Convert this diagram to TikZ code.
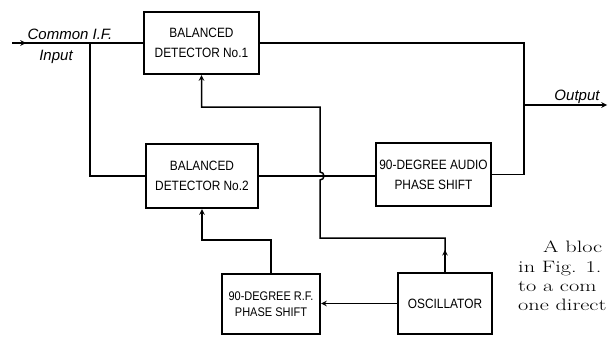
\documentclass[tikz,border=0pt]{standalone}
\usepackage{graphicx}
\usepackage{fontspec}
\newfontfamily\boxfont[FakeStretch=0.88]{Liberation Sans}
\newfontfamily\labfont{Liberation Sans}
\newcommand{\wide}[1]{\scalebox{1.35}[1]{#1}}
\tikzset{
  blk/.style={draw, line width=2.2pt, inner sep=0pt, align=center,
    font=\boxfont\fontsize{13.5}{20}\selectfont},
  wire/.style={line width=1.5pt},
  lab/.style={inner sep=0pt, font=\labfont\itshape\fontsize{15}{18}\selectfont},
  book/.style={inner sep=0pt, font=\rmfamily\fontsize{16.5}{19}\selectfont},
}

\begin{document}
\begin{tikzpicture}[>=stealth, x=1pt, y=1pt]
\useasboundingbox (0,0) rectangle (609,-337);
\clip (0,0) rectangle (609,-337);

\node[blk, minimum width=115pt, minimum height=62pt](D1) at (201.5,-43){BALANCED\\DETECTOR No.1};
\node[blk, minimum width=112pt, minimum height=64pt](D2) at (202,-176){BALANCED\\DETECTOR No.2};
\node[blk, minimum width=115pt, minimum height=63pt](S1) at (433.5,-174.5){90-DEGREE AUDIO\\PHASE SHIFT};
\node[blk, minimum width=98pt, minimum height=60pt,
  font=\boxfont\fontsize{12.5}{16}\selectfont](S2) at (271,-304){90-DEGREE R.F.\\PHASE SHIFT};
\node[blk, minimum width=94pt, minimum height=61pt](O1) at (445,-303.5){OSCILLATOR};

\node[lab, anchor=base](L1) at (70,-40){Common I.F.};
\node[lab, anchor=base](L2) at (56,-60){Input};
\node[lab, anchor=base](L3) at (577,-100){Output};

\coordinate(in) at (12,-43);
\coordinate(j1) at (90,-43);
\coordinate(j2) at (524,-105);
\coordinate(out) at (607,-105);
\coordinate(c1) at (524,-174.5);
\coordinate(k1) at (320,-238);
\coordinate(k2) at (202,-240);

\draw[wire](in)--(D1.west);
\draw[wire,->](in)--++(14,0);
\draw[wire](j1)|-(D2.west);
\draw[wire](D1.east)-|(c1)--(S1.east);
\draw[wire,->](j2)--(out);
\draw[wire](D2.east)--(D2.east -| S1.west);

\draw[wire,->](O1.north)--++(0,22);
\draw[wire,->](O1.north)|-(k1)--(320,-180)
  arc[start angle=-90, end angle=90, radius=4]--(320,-107)-|(D1.south);
\draw[wire,->](S2.north)|-(k2)--(D2.south);
\draw[wire,->](O1.west)--(O1.west -| S2.east);

\node[book, anchor=base west](T1) at (543,-252){\wide{A bloc}};
\node[book, anchor=base west](T2) at (518,-272.5){\wide{in Fig. 1.}};
\node[book, anchor=base west](T3) at (518,-291){\wide{to a com}};
\node[book, anchor=base west](T4) at (518,-310){\wide{one direct}};
\end{tikzpicture}
\end{document}
